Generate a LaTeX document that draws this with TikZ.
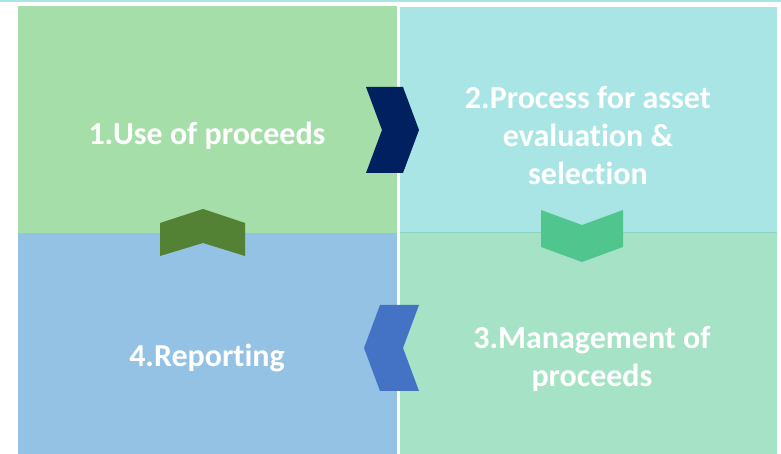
\documentclass[tikz,border=0pt]{standalone}
\usepackage{fontspec}
\setmainfont{Carlito}[Ligatures=NoCommon]
\usetikzlibrary{positioning}

\definecolor{topCyan}{HTML}{A9E5E5}
\definecolor{useGreen}{HTML}{A5DEA8}
\definecolor{evalCyan}{HTML}{A9E5E5}
\definecolor{mgmtMint}{HTML}{A6E3C6}
\definecolor{repBlue}{HTML}{94C2E4}
\definecolor{edgeMint}{HTML}{8ED3BE}
\definecolor{navyChev}{HTML}{002060}
\definecolor{greenChev}{HTML}{548235}
\definecolor{mintChev}{HTML}{50C68E}
\definecolor{blueChev}{HTML}{4472C4}

\begin{document}
\begin{tikzpicture}[
    x=1pt, y=1pt,
    quad/.style={rectangle, anchor=south west, inner sep=0pt, outer sep=0pt},
    title/.style={text=white, align=center, font=\bfseries\fontsize{32}{38}\selectfont}
]
    \useasboundingbox (0,0) rectangle (781,454);
    \fill[topCyan] (0,452) rectangle (781,454);

    % quadrants
    \node[quad, fill=useGreen, minimum width=379pt, minimum height=227pt] (q1) at (18,221) {};
    \node[quad, fill=evalCyan, minimum width=377pt, minimum height=226pt] (q2) at (400,221) {};
    \node[quad, fill=mgmtMint, minimum width=377pt, minimum height=221pt] (q3) at (400,0) {};
    \node[quad, fill=repBlue, minimum width=379pt, minimum height=221pt] (q4) at (18,0) {};
    \draw[edgeMint, line width=1pt] (q3.north west) -- (q3.north east);

    % texts
    \node[title] (use) at (207,318) {1.Use of proceeds};
    \node[title] (eval) at (588,318) {2.Process for asset\\evaluation \&\\selection};
    \node[title] (mgmt) at (592,95) {3.Management of\\proceeds};
    \node[title] (rep) at (207,96) {4.Reporting};

    % chevrons
    \fill[navyChev] (366,367) -- (403,367) -- (419,324) -- (403,281) -- (366,281) -- (382,324) -- cycle;
    \fill[mintChev] (541,244) -- (582,229) -- (623,244) -- (623,207) -- (582,192) -- (541,207) -- cycle;
    \fill[blueChev] (380,149) -- (419,149) -- (403,106) -- (419,63) -- (380,63) -- (364,106) -- cycle;
    \fill[greenChev] (160,231) -- (203,245) -- (245,231) -- (245,198) -- (203,211) -- (160,198) -- cycle;
\end{tikzpicture}
\end{document}
